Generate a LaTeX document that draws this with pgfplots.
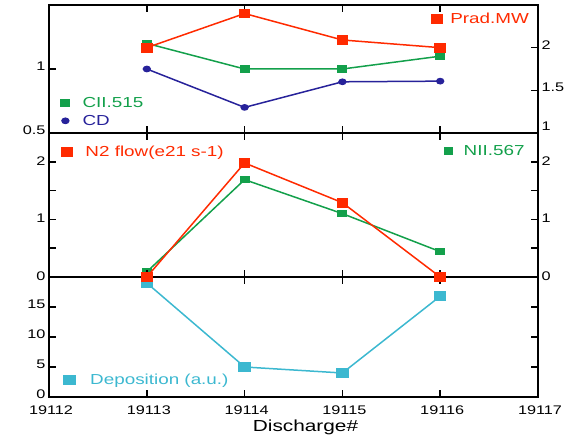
\documentclass[border=0pt]{standalone}
\usepackage{fontspec}
\setmainfont{Liberation Sans}[FakeStretch=1.3]
\usepackage{pgfplots}
\pgfplotsset{compat=1.18}
\definecolor{cred}{RGB}{255,42,0}
\definecolor{cgreen}{RGB}{19,160,75}
\definecolor{cblue}{RGB}{39,34,154}
\definecolor{ccyan}{RGB}{60,184,208}
\pgfplotsset{
  base/.style={
    scale only axis, width=489pt,
    xmin=19112, xmax=19117,
    xtick={19112,19113,19114,19115,19116,19117},
    scaled x ticks=false, scaled y ticks=false,
    tick align=inside,
    major tick length=7pt,
    clip=false,
    axis line style={line width=1.6pt},
    tick style={black, line width=1.6pt},
    /pgf/number format/1000 sep={},
    /pgf/number format/assume math mode=true,
    tick label style={font=\fontsize{12.5}{14}\selectfont},
    xticklabel style={yshift=-5pt, xshift=2pt},
    legend style={draw=none, fill=none, font=\fontsize{14.5}{16}\selectfont, inner sep=0pt, row sep=2pt,
      /tikz/every odd column/.append style={column sep=10pt}},
    legend image code/.code={\draw[##1,only marks] plot coordinates {(0pt,0pt)};},
    legend cell align=left,
  },
  ser/.style={line width=1.5pt},
}
\begin{document}
\begin{tikzpicture}
\useasboundingbox (0,0) rectangle (582pt,436pt);
% bottom panel
\begin{axis}[base, at={(49pt,39pt)}, anchor=south west, height=120pt,
  ymin=0, ymax=20, ytick={0,5,10,15},
  yticklabel style={yshift=3pt},
  xlabel={Discharge\#},
  xlabel style={font=\fontsize{16}{18}\selectfont, xshift=12pt, yshift=1pt},
  legend style={at={(0.0307,0.142)}, anchor=west,
    /tikz/every odd column/.append style={column sep=13pt}}]
\addplot[ser, ccyan, mark=square*, mark size=4.4pt, mark options={xscale=1.25}] coordinates {(19113,19.0)(19114,5.0)(19115,4.0)(19116,16.8)};
\addlegendentry{\textcolor{ccyan}{Deposition (a.u.)}}
\end{axis}
% middle panel right
\begin{axis}[base, at={(49pt,159pt)}, anchor=south west, height=144pt,
  ymin=0, ymax=2.5, ytick={0,0.5,1,1.5,2}, yticklabels={0,,1,,2},
  yticklabel style={yshift=1pt},
  ytick pos=right, yticklabel pos=right, xticklabels={},
  legend style={at={(0.808,0.875)}, anchor=west,
    /tikz/every odd column/.append style={column sep=9pt}}]
\addplot[ser, cgreen, mark=square*, mark size=3pt, mark options={xscale=1.4}] coordinates {(19113,0.09)(19114,1.69)(19115,1.10)(19116,0.44)};
\addlegendentry{\textcolor{cgreen}{NII.567}}
\end{axis}
% middle panel left
\begin{axis}[base, at={(49pt,159pt)}, anchor=south west, height=144pt,
  ymin=0, ymax=2.5, ytick={0,0.5,1,1.5,2}, yticklabels={0,,1,,2},
  yticklabel style={yshift=1pt},
  ytick pos=left, xticklabels={},
  legend style={at={(0.0266,0.868)}, anchor=west,
    /tikz/every odd column/.append style={column sep=11pt}}]
\addplot[ser, cred, mark=square*, mark size=4.1pt, mark options={xscale=1.25}] coordinates {(19113,0)(19114,1.98)(19115,1.29)(19116,0)};
\addlegendentry{\textcolor{cred}{N2 flow(e21 s-1)}}
\end{axis}
% top panel left
\begin{axis}[base, at={(49pt,303pt)}, anchor=south west, height=128pt,
  ymin=0.5, ymax=1.5, ytick={0.5,1},
  yticklabel style={yshift=3pt},
  ytick pos=left, xticklabels={},
  legend style={at={(0.0245,0.164)}, anchor=west,
    /tikz/every odd column/.append style={column sep=11pt}}]
\addplot[ser, cgreen, mark=square*, mark size=3pt, mark options={xscale=1.4}] coordinates {(19113,1.20)(19114,1.0)(19115,1.0)(19116,1.10)};
\addlegendentry{\textcolor{cgreen}{CII.515}}
\addplot[ser, cblue, mark=*, mark size=2.6pt, mark options={xscale=1.3}] coordinates {(19113,1.0)(19114,0.70)(19115,0.90)(19116,0.905)};
\addlegendentry{\textcolor{cblue}{CD}}
\end{axis}
% top panel right
\begin{axis}[base, at={(49pt,303pt)}, anchor=south west, height=128pt,
  ymin=1, ymax=2.5, ytick={1,1.5,2}, yticklabels={\raisebox{8pt}{1},1.5,2},
  yticklabel style={yshift=3pt},
  ytick pos=right, yticklabel pos=right, xticklabels={},
  legend style={at={(0.783,0.89)}, anchor=west,
    /tikz/every odd column/.append style={column sep=6pt}}]
\addplot[ser, cred, mark=square*, mark size=4.1pt, mark options={xscale=1.25}] coordinates {(19113,2.0)(19114,2.40)(19115,2.09)(19116,2.0)};
\addlegendentry{\textcolor{cred}{Prad.MW}}
\end{axis}
\end{tikzpicture}
\end{document}
